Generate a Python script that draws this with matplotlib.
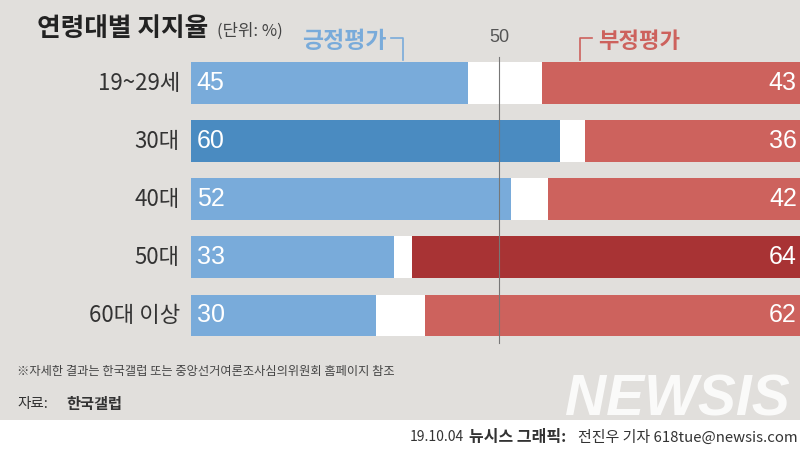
import numpy as np
import matplotlib
matplotlib.use('Agg')
import matplotlib.pyplot as plt
from matplotlib.patches import Rectangle

plt.rcParams['font.family'] = ['Noto Sans CJK KR', 'DejaVu Sans']

#%% 데이터
ages = ['19~29세', '30대', '40대', '50대', '60대 이상']
positive = [45, 60, 52, 33, 30]
negative = [43, 36, 42, 64, 62]
pos_colors = ['#79abda', '#4a8bc1', '#79abda', '#79abda', '#79abda']
neg_colors = ['#cd625d', '#cd625d', '#cd625d', '#a83334', '#cd625d']

bg = '#e1dfdc'
W, H = 800, 450

fig = plt.figure(figsize=(8, 4.5), dpi=100)
fig.patch.set_facecolor('white')
fig.patches.append(Rectangle((0, 1 - 420 / H), 1, 420 / H, transform=fig.transFigure,
                             facecolor=bg, edgecolor='none', zorder=-10))

# 막대 축 : 0 -> x=191px, 100 -> x=806px
x0, x100 = 191, 806
y_top, y_bot = 54, 344.5
ax = fig.add_axes([x0 / W, 1 - y_bot / H, (x100 - x0) / W, (y_bot - y_top) / H])
ax.patch.set_alpha(0)
ax.set_xlim(0, 100)
ax.set_ylim(len(ages) - 0.5, -0.5)
ax.axis('off')

y = np.arange(len(ages))
bh = 0.72
ax.barh(y, [100] * len(ages), height=bh, color='white', zorder=1)
ax.barh(y, positive, height=bh, color=pos_colors, zorder=2)
ax.barh(y, negative, left=[100 - v for v in negative], height=bh, color=neg_colors, zorder=2)
ax.axvline(50, ymin=0.004, ymax=0.99, color='#777777', lw=0.8, zorder=3)

for i in range(len(ages)):
    ax.text(0.9, y[i], str(positive[i]), color='white', fontsize=18, va='center', ha='left',
            zorder=4, family=['Liberation Sans', 'DejaVu Sans'])
    ax.text(98.5, y[i], str(negative[i]), color='white', fontsize=18, va='center', ha='right',
            zorder=4, family=['Liberation Sans', 'DejaVu Sans'])
    ax.text(-1.8, y[i], ages[i], color='#333333', fontsize=16, va='center', ha='right', zorder=4)

# 제목 / 범례
fig.text(37 / W, 1 - 28 / H, '연령대별 지지율', fontsize=18.5, fontweight='bold', color='#222222', va='center')
fig.text(217 / W, 1 - 31 / H, '(단위: %)', fontsize=12, color='#444444', va='center')
fig.text(302 / W, 1 - 41 / H, '긍정평가', fontsize=16.5, fontweight='bold', color='#79abda', va='center')
fig.text(598 / W, 1 - 42 / H, '부정평가', fontsize=16, fontweight='bold', color='#cd625d', va='center')
fig.text(499 / W, 1 - 38 / H, '50', fontsize=13, color='#555555', va='center', ha='center',
         family=['Liberation Sans', 'DejaVu Sans'])
fig.add_artist(plt.Line2D([391 / W, 403 / W, 403 / W], [1 - 38 / H, 1 - 38 / H, 1 - 60 / H],
                          transform=fig.transFigure, color='#79abda', lw=1.2))
fig.add_artist(plt.Line2D([592 / W, 580 / W, 580 / W], [1 - 38 / H, 1 - 38 / H, 1 - 60 / H],
                          transform=fig.transFigure, color='#cd625d', lw=1.2))

# 하단 텍스트
fig.text(17 / W, 1 - 371 / H, '※자세한 결과는 한국갤럽 또는 중앙선거여론조사심의위원회 홈페이지 참조',
         fontsize=8.8, color='#444444', va='center')
fig.text(17 / W, 1 - 404 / H, '자료:', fontsize=10.5, color='#333333', va='center')
fig.text(66 / W, 1 - 404 / H, '한국갤럽', fontsize=11, fontweight='bold', color='#333333', va='center')
fig.text(677 / W, 1 - 400 / H, 'NEWSIS', fontsize=41, fontweight='bold', fontstyle='italic', color='white',
         alpha=0.85, va='center', ha='center', family=['Liberation Sans', 'DejaVu Sans'])
fig.text(410 / W, 1 - 437 / H, '19.10.04', fontsize=10, color='#333333', va='center')
fig.text(469 / W, 1 - 437 / H, '뉴시스 그래픽:', fontsize=11.5, fontweight='bold', color='#333333', va='center')
fig.text(578 / W, 1 - 437 / H, '전진우 기자 618tue@newsis.com', fontsize=10.8, color='#333333', va='center')

fig.savefig('out.png', dpi=100, facecolor=fig.get_facecolor())
